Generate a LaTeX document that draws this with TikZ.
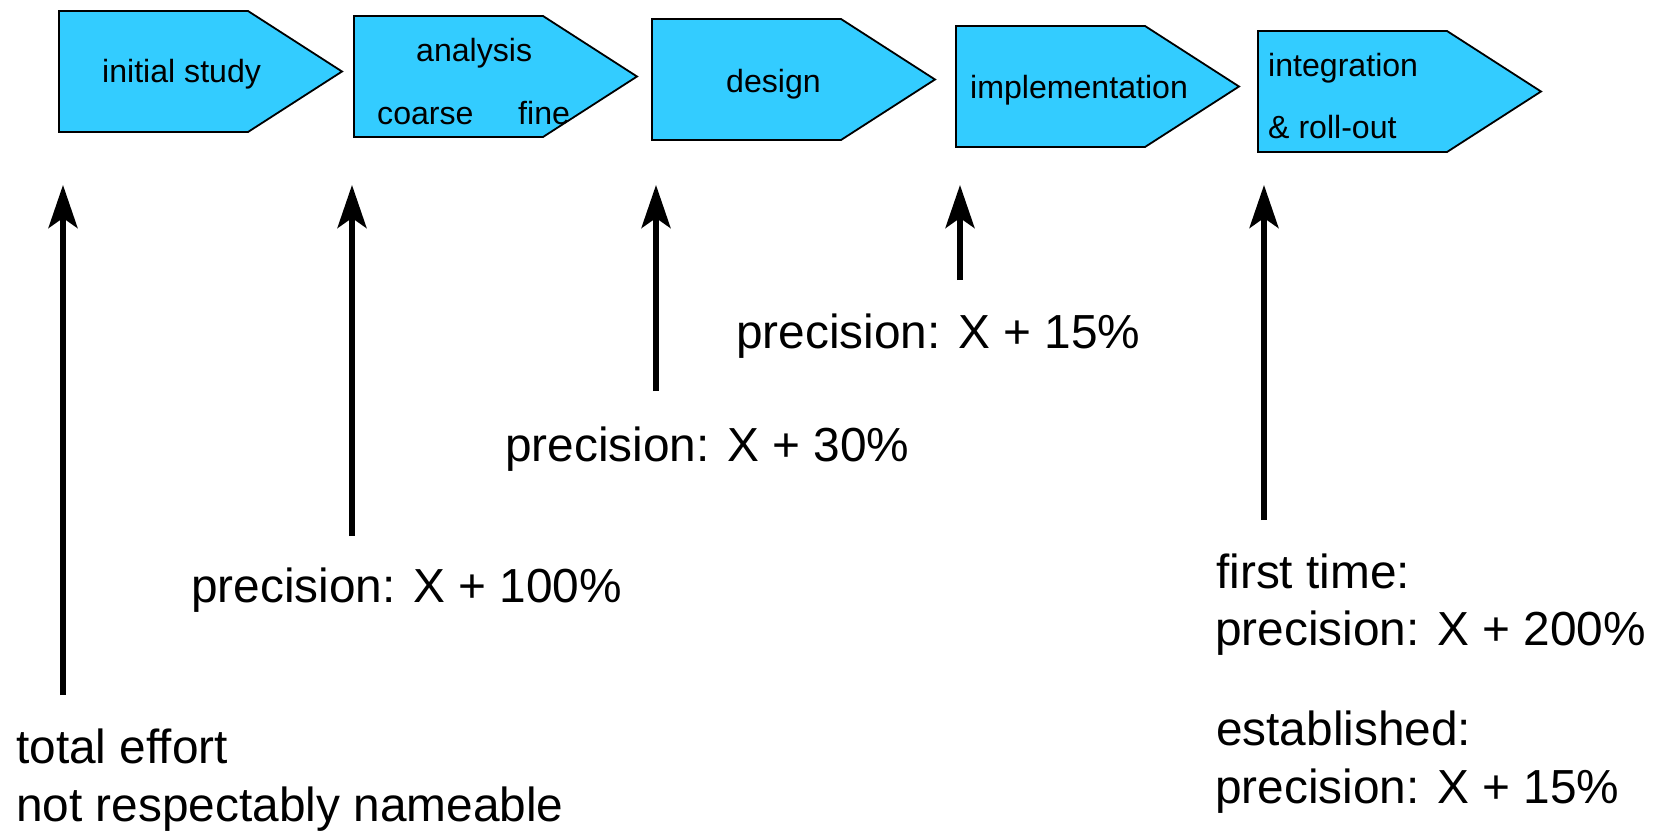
\documentclass[tikz,border=0pt]{standalone}
\usepackage{fontspec}
\setmainfont{Liberation Sans}
\usetikzlibrary{arrows.meta}
\definecolor{phasefill}{RGB}{51,204,255}

% one phase of the process: a pentagon pointing right
\newcommand\phaseshape[3]{%
  \draw[phasebox] (#2,#3) coordinate (#1-nw) -- ++(189,0) -- ++(94,60.5)
    coordinate (#1-tip) -- ++(-94,60.5) -- ++(-189,0) coordinate (#1-sw) -- cycle;
}

\begin{document}
\begin{tikzpicture}[x=1pt,y=-1pt,
  phasebox/.style={draw=black, line width=1.8pt, fill=phasefill, line join=miter},
  boxtext/.style={font=\fontsize{32.1}{38}\selectfont, anchor=base west, inner sep=0pt},
  note/.style={font=\fontsize{47.8}{58}\selectfont, anchor=base west, inner sep=0pt},
  effort/.style={line width=5.3pt, line cap=butt,
    -{Stealth[length=43pt,width=29pt,inset=10pt]}}]
\useasboundingbox (0,0) rectangle (1657,832);

% phases
\phaseshape{p1}{59}{11}
\phaseshape{p2}{354}{16}
\phaseshape{p3}{652}{19}
\phaseshape{p4}{956}{26}
\phaseshape{p5}{1258}{31}

\node[boxtext] (t1)  at (102,83)  {initial study};
\node[boxtext] (t2)  at (416,62)  {analysis};
\node[boxtext] (t2a) at (377,125) {coarse};
\node[boxtext] (t2b) at (518,125) {fine};
\node[boxtext] (t3)  at (726,93)  {design};
\node[boxtext] (t4)  at (970,99)  {implementation};
\node[boxtext] (t5)  at (1268,77) {integration};
\node[boxtext] (t5a) at (1268,139) {\&\ roll-out};

% estimates
\node[note] (n1)  at (16,763)   {total effort};
\node[note] (n1a) at (16,821)   {not respectably nameable};
\node[note] (n2)  at (191,602)  {precision: X + 100\%};
\node[note] (n3)  at (505,461)  {precision: X + 30\%};
\node[note] (n4)  at (736,348)  {precision: X + 15\%};
\node[note] (n5)  at (1216,588) {first time:};
\node[note] (n5a) at (1215,645) {precision: X + 200\%};
\node[note] (n5b) at (1216,745) {established:};
\node[note] (n5c) at (1215,803) {precision: X + 15\%};

% arrow ends
\coordinate (a1s) at (63,695);   \coordinate (a1e) at (63,185);
\coordinate (a2s) at (352,536);  \coordinate (a2e) at (352,185);
\coordinate (a3s) at (656,391);  \coordinate (a3e) at (656,185);
\coordinate (a4s) at (960,280);  \coordinate (a4e) at (960,185);
\coordinate (a5s) at (1264,520); \coordinate (a5e) at (1264,185);

\draw[effort] (a1s) -- (a1e);
\draw[effort] (a2s) -- (a2e);
\draw[effort] (a3s) -- (a3e);
\draw[effort] (a4s) -- (a4e);
\draw[effort] (a5s) -- (a5e);
\end{tikzpicture}
\end{document}
